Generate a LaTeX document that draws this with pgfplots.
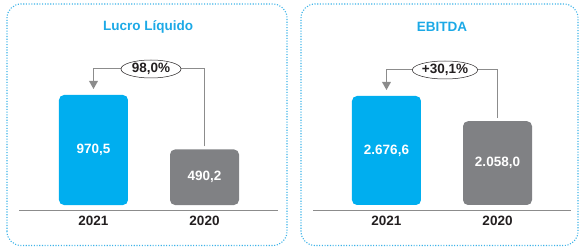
\documentclass[border=0pt]{standalone}
\usepackage{pgfplots}
\pgfplotsset{compat=1.18}
\usepackage{fontspec}
\setmainfont{Liberation Sans}
\usetikzlibrary{calc,shapes.geometric}
\definecolor{barblue}{HTML}{00AEEF}
\definecolor{bargray}{HTML}{808184}
\definecolor{titleblue}{HTML}{1CA9E6}
\definecolor{boxblue}{HTML}{3DB3E8}
\definecolor{linegray}{HTML}{8C8C8C}
\definecolor{txtdark}{HTML}{231F20}
\newcommand{\bigbf}{\fontsize{13.5bp}{16bp}\selectfont\bfseries}
\pgfplotsset{
  panel/.style={
    scale only axis,
    axis y line=none,
    axis x line=bottom,
    axis line style={-, draw=linegray, line width=1bp},
    ytick=\empty,
    xtick={0,1},
    xticklabels={2021,2020},
    major tick length=0pt,
    xticklabel style={font=\bigbf, text=txtdark, yshift=-2.5bp},
    clip=false,
    ybar,
    bar width=69bp,
    bar shift=0pt,
    point meta=explicit symbolic,
    nodes near coords,
    visualization depends on={rawy \as \rawy},
    every node near coord/.style={anchor=center, shift={(axis direction cs:0,-\rawy/2)}, font=\bigbf, text=white},
  }
}
\begin{document}
\begin{tikzpicture}
\path[use as bounding box] (0,0) rectangle (583bp,247bp);
% panel frames
\draw[boxblue, line width=1.1bp, dash pattern=on 1.1bp off 1.6bp, rounded corners=14bp] (7bp,1.5bp) rectangle (287bp,243bp);
\draw[boxblue, line width=1.1bp, dash pattern=on 1.1bp off 1.6bp, rounded corners=14bp] (301bp,1.5bp) rectangle (578bp,243bp);
% titles
\node[text=titleblue, font=\bigbf] at (148bp,220bp) {Lucro Líquido};
\node[text=titleblue, font=\bigbf] at (442bp,220bp) {EBITDA};

\begin{axis}[panel, at={(19bp,37bp)}, anchor=south west,
  width=259bp, height=115bp, xmin=-0.671, xmax=1.662, ymin=-44.1, ymax=970.5]
\addplot[draw=none, fill=barblue, rounded corners=5bp] coordinates {(0,970.5) [970,5]};
\addplot[draw=none, fill=bargray, rounded corners=5bp] coordinates {(1,490.2) [490,2]};
\coordinate (L) at (axis cs:0,970.5);
\coordinate (R) at (axis cs:1,490.2);
\end{axis}
\draw[linegray, line width=1bp] ($(R)+(0,3bp)$) -- ($(R|-L)+(0,26bp)$) -- ($(L)+(0,26bp)$) -- ($(L)+(0,13bp)$);
\fill[linegray] ($(L)+(0,6bp)$) -- ($(L)+(-4.5bp,14bp)$) -- ($(L)+(4.5bp,14bp)$) -- cycle;
\node[ellipse, draw=txtdark, line width=0.5bp, fill=white, minimum width=60bp, minimum height=18bp, inner sep=0pt, text=txtdark, font=\bigbf] at ($($(L)!0.5!(R|-L)$)+(2bp,26bp)$) {98,0\%};

\begin{axis}[panel, at={(313bp,37bp)}, anchor=south west,
  width=258bp, height=114bp, xmin=-0.662, xmax=1.662, ymin=-122.8, ymax=2676.6]
\addplot[draw=none, fill=barblue, rounded corners=5bp] coordinates {(0,2676.6) [2.676,6]};
\addplot[draw=none, fill=bargray, rounded corners=5bp] coordinates {(1,2058.0) [2.058,0]};
\coordinate (L2) at (axis cs:0,2676.6);
\coordinate (R2) at (axis cs:1,2058.0);
\end{axis}
\draw[linegray, line width=1bp] ($(R2)+(0,3bp)$) -- ($(R2|-L2)+(0,26bp)$) -- ($(L2)+(0,26bp)$) -- ($(L2)+(0,13bp)$);
\fill[linegray] ($(L2)+(0,6bp)$) -- ($(L2)+(-4.5bp,14bp)$) -- ($(L2)+(4.5bp,14bp)$) -- cycle;
\node[ellipse, draw=txtdark, line width=0.5bp, fill=white, minimum width=60bp, minimum height=18bp, inner sep=0pt, text=txtdark, font=\bigbf] at ($($(L2)!0.5!(R2|-L2)$)+(3bp,26bp)$) {+30,1\%};
\end{tikzpicture}
\end{document}
